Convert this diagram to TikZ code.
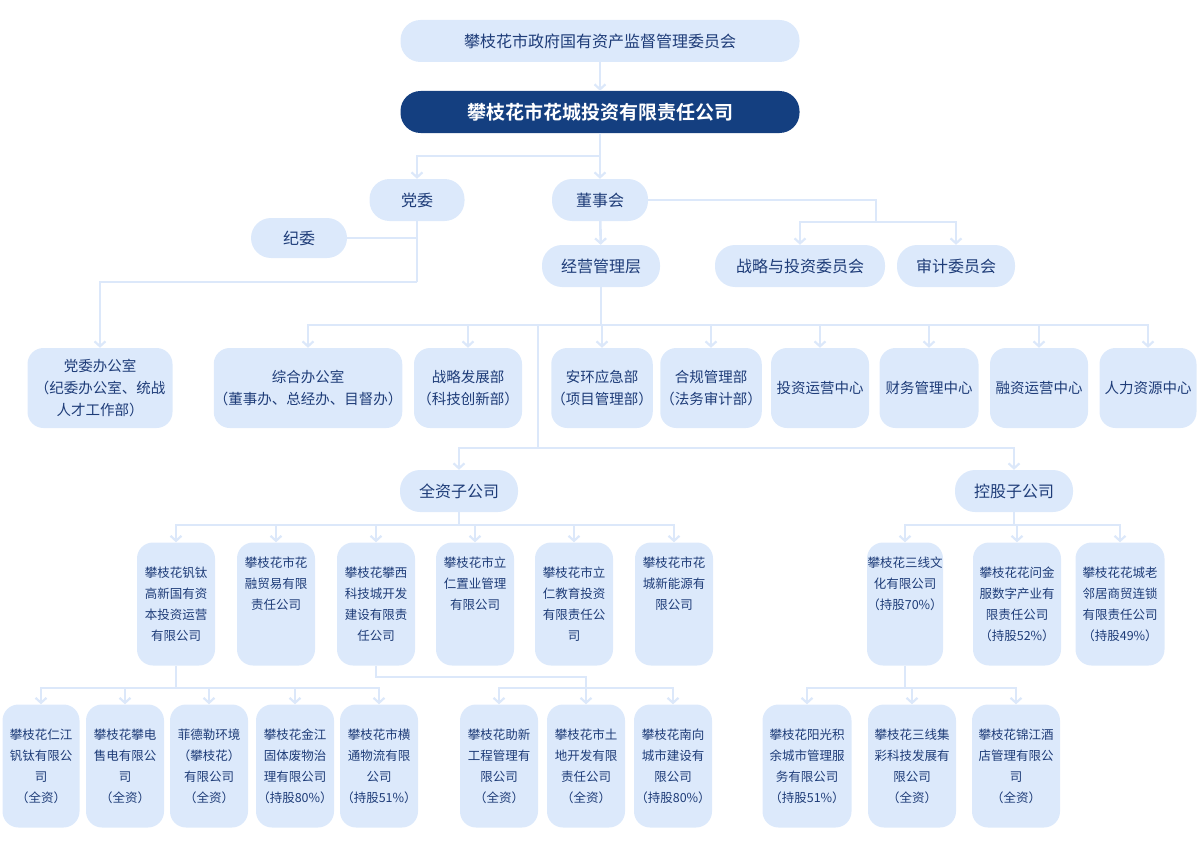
\documentclass[tikz,border=0pt]{standalone}
\usepackage{fontspec}
\setmainfont{Noto Sans CJK SC}
\newfontfamily\cjkb{Noto Sans CJK SC Bold}
\usetikzlibrary{arrows.meta}
\definecolor{boxc}{HTML}{DCE9FB}
\definecolor{linec}{HTML}{DCE8FA}
\definecolor{txtc}{HTML}{1E3C78}
\definecolor{navy}{HTML}{143F80}
\tikzset{
 pill/.style={fill=boxc,draw=none,rounded corners=20pt,minimum height=42pt,inner sep=0,text=txtc,font=\fontsize{16}{20}\selectfont,align=center},
 dept/.style={fill=boxc,draw=none,rounded corners=16pt,minimum height=80pt,inner sep=0,text=txtc,font=\fontsize{14.5}{22}\selectfont,align=center},
 sub/.style={fill=boxc,draw=none,rounded corners=16pt,minimum height=123pt,minimum width=78pt,inner sep=0,text=txtc,font=\fontsize{12.5}{21}\selectfont,align=center},
 conn/.style={draw=linec,line width=2.6pt},
 arr/.style={conn,-{Straight Barb[length=5pt,width=11pt,line width=2.2pt]}},
}
\begin{document}
\begin{tikzpicture}[x=1pt,y=-1pt]
\useasboundingbox (0,0) rectangle (1201,848);
% top
\node[pill,minimum width=399pt] (gov) at (600,41) {攀枝花市政府国有资产监督管理委员会};
\node[pill,minimum width=399pt,fill=navy,text=white,font=\cjkb\fontsize{19}{22}\selectfont] (co) at (600,112) {攀枝花市花城投资有限责任公司};
\node[pill,minimum width=95pt] (dw) at (417,200) {党委};
\node[pill,minimum width=96pt] (ds) at (600,200) {董事会};
\node[pill,minimum width=96pt,minimum height=40pt] (jw) at (299,238) {纪委};
\node[pill,minimum width=118pt] (jy) at (601,266) {经营管理层};
\node[pill,minimum width=170pt] (zl) at (800,266) {战略与投资委员会};
\node[pill,minimum width=118pt] (sj) at (956,266) {审计委员会};
% departments
\node[dept,minimum width=145pt] (d1) at (100,388) {党委办公室\\（纪委办公室、统战\\人才工作部）};
\node[dept,minimum width=188pt] (d2) at (308,388) {综合办公室\\（董事办、总经办、目督办）};
\node[dept,minimum width=108pt] (d3) at (468,388) {战略发展部\\（科技创新部）};
\node[dept,minimum width=98pt] (d4) at (602,388) {安环应急部\\（项目管理部）};
\node[dept,minimum width=98pt] (d5) at (711,388) {合规管理部\\（法务审计部）};
\node[dept,minimum width=98pt] (d6) at (820,388) {投资运营中心};
\node[dept,minimum width=99pt] (d7) at (929,388) {财务管理中心};
\node[dept,minimum width=98pt] (d8) at (1039,388) {融资运营中心};
\node[dept,minimum width=97pt] (d9) at (1148,388) {人力资源中心};
% subsidiaries
\node[pill,minimum width=118pt] (qz) at (459,491) {全资子公司};
\node[pill,minimum width=118pt] (kg) at (1014,491) {控股子公司};
\node[sub] (s1) at (176,604) {攀枝花钒钛\\高新国有资\\本投资运营\\有限公司};
\node[sub] (s2) at (276,604) {攀枝花市花\\融贸易有限\\责任公司\\[21pt]};
\node[sub] (s3) at (376,604) {攀枝花攀西\\科技城开发\\建设有限责\\任公司};
\node[sub] (s4) at (475,604) {攀枝花市立\\仁置业管理\\有限公司\\[21pt]};
\node[sub] (s5) at (574,604) {攀枝花市立\\仁教育投资\\有限责任公\\司};
\node[sub] (s6) at (674,604) {攀枝花市花\\城新能源有\\限公司\\[21pt]};
\node[sub,minimum width=76pt] (k1) at (905,604) {攀枝花三线文\\化有限公司\\（持股70\%）\\[21pt]};
\node[sub,minimum width=88pt] (k2) at (1017,604) {攀枝花花问金\\服数字产业有\\限责任公司\\（持股52\%）};
\node[sub,minimum width=89pt] (k3) at (1120,604) {攀枝花花城老\\邻居商贸连锁\\有限责任公司\\（持股49\%）};
% 4th row
\node[sub,minimum width=77pt] (t1) at (41,766) {攀枝花仁江\\钒钛有限公\\司\\（全资）};
\node[sub] (t2) at (125,766) {攀枝花攀电\\售电有限公\\司\\（全资）};
\node[sub] (t3) at (209,766) {菲德勒环境\\（攀枝花）\\有限公司\\（全资）};
\node[sub] (t4) at (295,766) {攀枝花金江\\固体废物治\\理有限公司\\（持股80\%）};
\node[sub] (t5) at (379,766) {攀枝花市横\\通物流有限\\公司\\（持股51\%）};
\node[sub] (t6) at (499,766) {攀枝花助新\\工程管理有\\限公司\\（全资）};
\node[sub] (t7) at (586,766) {攀枝花市土\\地开发有限\\责任公司\\（全资）};
\node[sub] (t8) at (673,766) {攀枝花南向\\城市建设有\\限公司\\（持股80\%）};
\node[sub,minimum width=89pt] (t9) at (807,766) {攀枝花阳光积\\余城市管理服\\务有限公司\\（持股51\%）};
\node[sub,minimum width=88pt] (t10) at (912,766) {攀枝花三线集\\彩科技发展有\\限公司\\（全资）};
\node[sub,minimum width=88pt] (t11) at (1016,766) {攀枝花锦江酒\\店管理有限公\\司\\（全资）};
% connectors
\draw[arr] (gov) -- (co);
\coordinate (b1) at (600,156);
\draw[conn] (co) -- (b1);
\draw[arr] (b1) -| (dw);
\draw[arr] (b1) -- (ds);
\draw[arr] (ds) -- (jy);
\draw[conn] (ds.east) -- (876,200) -- (876,222);
\coordinate (b2) at (876,222);
\draw[arr] (b2) -| (zl);
\draw[arr] (b2) -| (sj);
\coordinate (b3) at (417,282);
\draw[conn] (dw) -- (b3);
\draw[conn] (jw.east) -- (417,238);
\draw[arr] (b3) -| (d1.north);
\coordinate (b4) at (601,325);
\draw[conn] (jy) -- (b4);
\foreach \d in {d2,d3,d4,d5,d6,d7,d8,d9} \draw[arr] (b4) -| (\d.north);
\coordinate (b5) at (538,448);
\draw[conn] (538,325) -- (b5);
\draw[arr] (b5) -| (qz);
\draw[arr] (b5) -| (kg);
\coordinate (b6) at (459,525);
\draw[conn] (qz) -- (b6);
\foreach \d in {s1,s2,s3,s4,s5,s6} \draw[arr] (b6) -| (\d.north);
\coordinate (b7) at (1014,525);
\draw[conn] (kg) -- (b7);
\foreach \d in {k1,k2,k3} \draw[arr] (b7) -| (\d.north);
\coordinate (b8) at (176,688);
\draw[conn] (s1) -- (b8);
\foreach \d in {t1,t2,t3,t4,t5} \draw[arr] (b8) -| (\d.north);
\coordinate (b9) at (586,688);
\draw[conn] (s3.south) -- (376,677) -| (b9);
\foreach \d in {t6,t7,t8} \draw[arr] (b9) -| (\d.north);
\coordinate (b10) at (905,688);
\draw[conn] (k1) -- (b10);
\foreach \d in {t9,t10,t11} \draw[arr] (b10) -| (\d.north);
\end{tikzpicture}
\end{document}
